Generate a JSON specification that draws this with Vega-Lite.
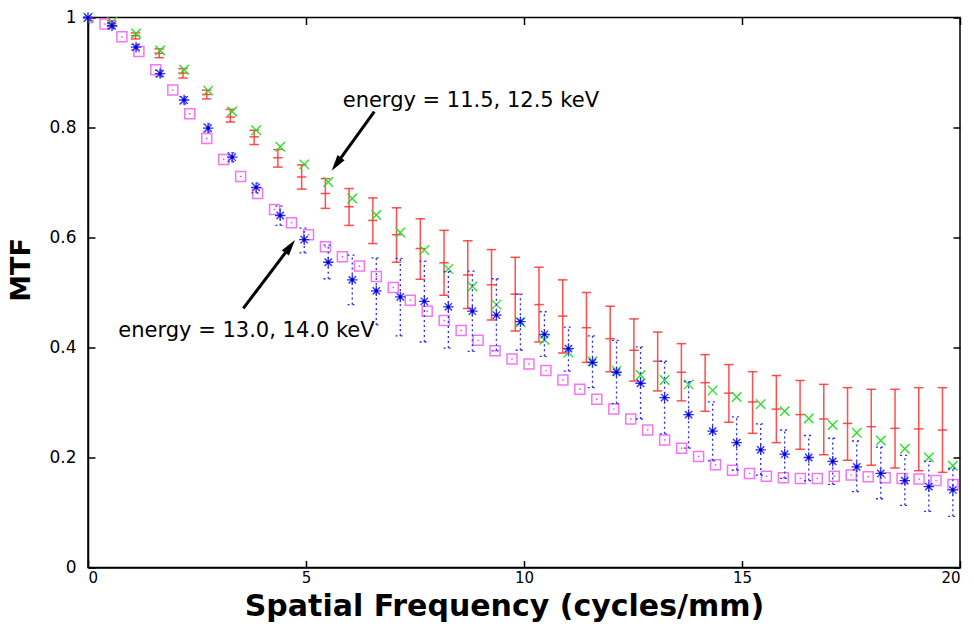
{
  "$schema": "https://vega.github.io/schema/vega-lite/v6.json",
  "width": 872,
  "height": 550,
  "autosize": {"type": "none"},
  "padding": {"left": 88, "top": 17.5, "right": 14, "bottom": 61.5},
  "background": "white",
  "config": {
    "view": {"stroke": "black", "strokeWidth": 1.5},
    "axis": {"grid": false, "domainColor": "black", "domainWidth": 1.5, "tickColor": "black", "tickWidth": 1.5, "labelColor": "black", "labelFont": "DejaVu Sans", "labelFontSize": 17, "titleColor": "black"}
  },
  "datasets": {
    "red": [
      {"f": 0, "m": 1.0, "lo": 1.0, "hi": 1.0},
      {"f": 0.544, "m": 0.989, "lo": 0.984, "hi": 0.994},
      {"f": 1.089, "m": 0.967, "lo": 0.961, "hi": 0.972},
      {"f": 1.633, "m": 0.935, "lo": 0.927, "hi": 0.943},
      {"f": 2.178, "m": 0.899, "lo": 0.890, "hi": 0.907},
      {"f": 2.722, "m": 0.860, "lo": 0.852, "hi": 0.868},
      {"f": 3.266, "m": 0.819, "lo": 0.810, "hi": 0.833},
      {"f": 3.811, "m": 0.783, "lo": 0.769, "hi": 0.795},
      {"f": 4.355, "m": 0.745, "lo": 0.728, "hi": 0.760},
      {"f": 4.900, "m": 0.710, "lo": 0.688, "hi": 0.732},
      {"f": 5.444, "m": 0.680, "lo": 0.653, "hi": 0.707},
      {"f": 5.988, "m": 0.656, "lo": 0.622, "hi": 0.689},
      {"f": 6.533, "m": 0.631, "lo": 0.589, "hi": 0.672},
      {"f": 7.077, "m": 0.605, "lo": 0.555, "hi": 0.654},
      {"f": 7.622, "m": 0.580, "lo": 0.524, "hi": 0.634},
      {"f": 8.166, "m": 0.554, "lo": 0.495, "hi": 0.613},
      {"f": 8.710, "m": 0.532, "lo": 0.471, "hi": 0.594},
      {"f": 9.255, "m": 0.514, "lo": 0.450, "hi": 0.578},
      {"f": 9.799, "m": 0.497, "lo": 0.430, "hi": 0.564},
      {"f": 10.344, "m": 0.478, "lo": 0.410, "hi": 0.546},
      {"f": 10.888, "m": 0.457, "lo": 0.390, "hi": 0.523},
      {"f": 11.432, "m": 0.436, "lo": 0.373, "hi": 0.500},
      {"f": 11.977, "m": 0.416, "lo": 0.356, "hi": 0.475},
      {"f": 12.521, "m": 0.395, "lo": 0.339, "hi": 0.452},
      {"f": 13.066, "m": 0.375, "lo": 0.321, "hi": 0.428},
      {"f": 13.610, "m": 0.355, "lo": 0.303, "hi": 0.407},
      {"f": 14.154, "m": 0.336, "lo": 0.284, "hi": 0.387},
      {"f": 14.699, "m": 0.317, "lo": 0.264, "hi": 0.369},
      {"f": 15.243, "m": 0.301, "lo": 0.244, "hi": 0.356},
      {"f": 15.788, "m": 0.288, "lo": 0.227, "hi": 0.349},
      {"f": 16.332, "m": 0.278, "lo": 0.215, "hi": 0.340},
      {"f": 16.876, "m": 0.270, "lo": 0.205, "hi": 0.333},
      {"f": 17.421, "m": 0.262, "lo": 0.195, "hi": 0.327},
      {"f": 17.965, "m": 0.256, "lo": 0.186, "hi": 0.324},
      {"f": 18.510, "m": 0.253, "lo": 0.181, "hi": 0.324},
      {"f": 19.054, "m": 0.252, "lo": 0.176, "hi": 0.327},
      {"f": 19.598, "m": 0.250, "lo": 0.173, "hi": 0.327}
    ],
    "green": [
      {"f": 0, "m": 1.0}, {"f": 0.551, "m": 0.992}, {"f": 1.102, "m": 0.971}, {"f": 1.653, "m": 0.940},
      {"f": 2.204, "m": 0.905}, {"f": 2.755, "m": 0.867}, {"f": 3.306, "m": 0.829}, {"f": 3.857, "m": 0.795},
      {"f": 4.408, "m": 0.765}, {"f": 4.959, "m": 0.733}, {"f": 5.510, "m": 0.701}, {"f": 6.061, "m": 0.671},
      {"f": 6.612, "m": 0.641}, {"f": 7.163, "m": 0.609}, {"f": 7.714, "m": 0.577}, {"f": 8.265, "m": 0.543},
      {"f": 8.816, "m": 0.511}, {"f": 9.367, "m": 0.478}, {"f": 9.918, "m": 0.446}, {"f": 10.469, "m": 0.414},
      {"f": 11.020, "m": 0.391}, {"f": 11.571, "m": 0.375}, {"f": 12.122, "m": 0.358}, {"f": 12.673, "m": 0.350},
      {"f": 13.224, "m": 0.341}, {"f": 13.775, "m": 0.333}, {"f": 14.326, "m": 0.322}, {"f": 14.877, "m": 0.310},
      {"f": 15.428, "m": 0.297}, {"f": 15.979, "m": 0.284}, {"f": 16.530, "m": 0.271}, {"f": 17.081, "m": 0.259},
      {"f": 17.632, "m": 0.245}, {"f": 18.183, "m": 0.231}, {"f": 18.734, "m": 0.216}, {"f": 19.285, "m": 0.200},
      {"f": 19.836, "m": 0.185}
    ],
    "blue": [
      {"f": 0, "m": 1.0, "lo": 1.0, "hi": 1.0},
      {"f": 0.551, "m": 0.985, "lo": 0.980, "hi": 0.990},
      {"f": 1.102, "m": 0.946, "lo": 0.941, "hi": 0.951},
      {"f": 1.653, "m": 0.898, "lo": 0.892, "hi": 0.904},
      {"f": 2.204, "m": 0.850, "lo": 0.843, "hi": 0.856},
      {"f": 2.755, "m": 0.799, "lo": 0.792, "hi": 0.806},
      {"f": 3.306, "m": 0.746, "lo": 0.738, "hi": 0.754},
      {"f": 3.857, "m": 0.691, "lo": 0.681, "hi": 0.699},
      {"f": 4.408, "m": 0.640, "lo": 0.622, "hi": 0.657},
      {"f": 4.959, "m": 0.596, "lo": 0.572, "hi": 0.617},
      {"f": 5.510, "m": 0.555, "lo": 0.525, "hi": 0.586},
      {"f": 6.061, "m": 0.523, "lo": 0.478, "hi": 0.568},
      {"f": 6.612, "m": 0.503, "lo": 0.441, "hi": 0.563},
      {"f": 7.163, "m": 0.492, "lo": 0.421, "hi": 0.562},
      {"f": 7.714, "m": 0.484, "lo": 0.410, "hi": 0.557},
      {"f": 8.265, "m": 0.474, "lo": 0.399, "hi": 0.538},
      {"f": 8.816, "m": 0.466, "lo": 0.393, "hi": 0.539},
      {"f": 9.367, "m": 0.459, "lo": 0.394, "hi": 0.525},
      {"f": 9.918, "m": 0.447, "lo": 0.395, "hi": 0.497},
      {"f": 10.469, "m": 0.424, "lo": 0.384, "hi": 0.465},
      {"f": 11.020, "m": 0.398, "lo": 0.357, "hi": 0.437},
      {"f": 11.571, "m": 0.373, "lo": 0.327, "hi": 0.421},
      {"f": 12.122, "m": 0.355, "lo": 0.298, "hi": 0.413},
      {"f": 12.673, "m": 0.335, "lo": 0.270, "hi": 0.401},
      {"f": 13.224, "m": 0.309, "lo": 0.243, "hi": 0.375},
      {"f": 13.775, "m": 0.278, "lo": 0.217, "hi": 0.338},
      {"f": 14.326, "m": 0.248, "lo": 0.194, "hi": 0.301},
      {"f": 14.877, "m": 0.227, "lo": 0.177, "hi": 0.274},
      {"f": 15.428, "m": 0.214, "lo": 0.168, "hi": 0.261},
      {"f": 15.979, "m": 0.206, "lo": 0.162, "hi": 0.250},
      {"f": 16.530, "m": 0.200, "lo": 0.158, "hi": 0.240},
      {"f": 17.081, "m": 0.193, "lo": 0.151, "hi": 0.235},
      {"f": 17.632, "m": 0.183, "lo": 0.138, "hi": 0.230},
      {"f": 18.183, "m": 0.171, "lo": 0.125, "hi": 0.219},
      {"f": 18.734, "m": 0.158, "lo": 0.113, "hi": 0.204},
      {"f": 19.285, "m": 0.147, "lo": 0.102, "hi": 0.193},
      {"f": 19.836, "m": 0.141, "lo": 0.093, "hi": 0.180}
    ],
    "magenta": [
      {"f": 0, "m": 1.0}, {"f": 0.389, "m": 0.988}, {"f": 0.778, "m": 0.965}, {"f": 1.167, "m": 0.938},
      {"f": 1.556, "m": 0.905}, {"f": 1.945, "m": 0.868}, {"f": 2.334, "m": 0.825}, {"f": 2.723, "m": 0.780},
      {"f": 3.112, "m": 0.742}, {"f": 3.501, "m": 0.711}, {"f": 3.890, "m": 0.680}, {"f": 4.279, "m": 0.651},
      {"f": 4.668, "m": 0.627}, {"f": 5.057, "m": 0.605}, {"f": 5.446, "m": 0.583}, {"f": 5.835, "m": 0.565},
      {"f": 6.224, "m": 0.548}, {"f": 6.613, "m": 0.529}, {"f": 7.002, "m": 0.509}, {"f": 7.391, "m": 0.486},
      {"f": 7.780, "m": 0.466}, {"f": 8.169, "m": 0.449}, {"f": 8.558, "m": 0.431}, {"f": 8.947, "m": 0.413},
      {"f": 9.336, "m": 0.394}, {"f": 9.725, "m": 0.379}, {"f": 10.114, "m": 0.370}, {"f": 10.503, "m": 0.358},
      {"f": 10.892, "m": 0.341}, {"f": 11.281, "m": 0.324}, {"f": 11.670, "m": 0.306}, {"f": 12.059, "m": 0.288},
      {"f": 12.448, "m": 0.270}, {"f": 12.837, "m": 0.250}, {"f": 13.226, "m": 0.232}, {"f": 13.615, "m": 0.217},
      {"f": 14.004, "m": 0.202}, {"f": 14.393, "m": 0.187}, {"f": 14.782, "m": 0.177}, {"f": 15.171, "m": 0.171},
      {"f": 15.560, "m": 0.166}, {"f": 15.949, "m": 0.163}, {"f": 16.338, "m": 0.162}, {"f": 16.727, "m": 0.162},
      {"f": 17.116, "m": 0.166}, {"f": 17.505, "m": 0.168}, {"f": 17.894, "m": 0.165}, {"f": 18.283, "m": 0.163},
      {"f": 18.672, "m": 0.162}, {"f": 19.061, "m": 0.161}, {"f": 19.450, "m": 0.158}, {"f": 19.839, "m": 0.151}
    ],
    "labels": [
      {"f": 5.842, "m": 0.8378, "t": "energy = 11.5, 12.5 keV"},
      {"f": 0.695, "m": 0.4196, "t": "energy = 13.0, 14.0 keV"}
    ],
    "arrows": [
      {"f": 6.567, "m": 0.8287, "f2": 5.697, "m2": 0.7333},
      {"f": 3.562, "m": 0.4713, "f2": 4.638, "m2": 0.5838}
    ],
    "head1": [{"f": 5.697, "m": 0.7333}],
    "head2": [{"f": 4.638, "m": 0.5838}]
  },
  "resolve": {"axis": {"x": "independent", "y": "independent"}},
  "layer": [
    {
      "data": {"name": "magenta"},
      "mark": {"type": "point", "shape": "square", "filled": false, "stroke": "#f03cf0", "strokeWidth": 1.5, "size": 100, "clip": true},
      "encoding": {
        "x": {"field": "f", "type": "quantitative", "scale": {"domain": [0, 20], "nice": false, "zero": false},
              "axis": {"orient": "bottom", "values": [0, 5, 10, 15, 20], "format": "~g", "tickSize": -7, "labelPadding": 10, "labelFontSize": 15,
                       "title": "Spatial Frequency (cycles/mm)", "titleFont": "DejaVu Sans", "titleFontWeight": "bold", "titleFontSize": 30,
                       "titleX": 416, "titleY": 48, "titleAnchor": "middle", "titleAlign": "center", "titleBaseline": "alphabetic"}},
        "y": {"field": "m", "type": "quantitative", "scale": {"domain": [0, 1], "nice": false, "zero": false},
              "axis": {"orient": "left", "values": [0, 0.2, 0.4, 0.6, 0.8, 1], "format": "~g", "tickSize": -7, "labelPadding": 19,
                       "title": "MTF", "titleFont": "DejaVu Sans", "titleFontWeight": "bold", "titleFontSize": 27,
                       "titleX": -59, "titleY": 252, "titleAngle": -90, "titleAlign": "center", "titleBaseline": "alphabetic"}}
      }
    },
    {
      "data": {"name": "magenta"},
      "mark": {"type": "point", "filled": true, "shape": "square", "size": 2, "color": "#f03cf0", "opacity": 1},
      "encoding": {
        "x": {"field": "f", "type": "quantitative", "axis": {"orient": "top", "values": [0, 5, 10, 15, 20], "tickSize": -7, "labels": false, "domain": false, "title": null}},
        "y": {"field": "m", "type": "quantitative", "axis": {"orient": "right", "values": [0, 0.2, 0.4, 0.6, 0.8, 1], "tickSize": -7, "labels": false, "domain": false, "title": null}}
      }
    },
    {
      "data": {"name": "red"},
      "mark": {"type": "rule", "color": "#ff3030", "strokeWidth": 1.5, "opacity": 0.85},
      "encoding": {
        "x": {"field": "f", "type": "quantitative", "axis": null},
        "y": {"field": "lo", "type": "quantitative", "axis": null},
        "y2": {"field": "hi"}
      }
    },
    {
      "data": {"name": "red"},
      "mark": {"type": "point", "shape": "M-1,0L1,0", "stroke": "#ff3030", "strokeWidth": 1.5, "size": 90, "opacity": 0.85},
      "encoding": {
        "x": {"field": "f", "type": "quantitative", "axis": null},
        "y": {"field": "lo", "type": "quantitative", "axis": null}
      }
    },
    {
      "data": {"name": "red"},
      "mark": {"type": "point", "shape": "M-1,0L1,0", "stroke": "#ff3030", "strokeWidth": 1.5, "size": 90, "opacity": 0.85},
      "encoding": {
        "x": {"field": "f", "type": "quantitative", "axis": null},
        "y": {"field": "hi", "type": "quantitative", "axis": null}
      }
    },
    {
      "data": {"name": "red"},
      "mark": {"type": "point", "shape": "M-1,0L1,0", "stroke": "#ff3030", "strokeWidth": 1.5, "size": 90, "opacity": 0.85},
      "encoding": {
        "x": {"field": "f", "type": "quantitative", "axis": null},
        "y": {"field": "m", "type": "quantitative", "axis": null}
      }
    },
    {
      "data": {"name": "green"},
      "mark": {"type": "point", "shape": "M-1,-1L1,1M-1,1L1,-1", "stroke": "#22e022", "strokeWidth": 1.3, "size": 90, "opacity": 1},
      "encoding": {
        "x": {"field": "f", "type": "quantitative", "axis": null},
        "y": {"field": "m", "type": "quantitative", "axis": null}
      }
    },
    {
      "data": {"name": "blue"},
      "mark": {"type": "rule", "color": "#2a2aff", "strokeWidth": 1.3, "strokeDash": [2, 3]},
      "encoding": {
        "x": {"field": "f", "type": "quantitative", "axis": null},
        "y": {"field": "lo", "type": "quantitative", "axis": null},
        "y2": {"field": "hi"}
      }
    },
    {
      "data": {"name": "blue"},
      "mark": {"type": "point", "shape": "M-1,0L1,0", "stroke": "#2a2aff", "strokeWidth": 1.3, "strokeDash": [2, 3], "size": 90, "opacity": 1},
      "encoding": {
        "x": {"field": "f", "type": "quantitative", "axis": null},
        "y": {"field": "lo", "type": "quantitative", "axis": null}
      }
    },
    {
      "data": {"name": "blue"},
      "mark": {"type": "point", "shape": "M-1,0L1,0", "stroke": "#2a2aff", "strokeWidth": 1.3, "strokeDash": [2, 3], "size": 90, "opacity": 1},
      "encoding": {
        "x": {"field": "f", "type": "quantitative", "axis": null},
        "y": {"field": "hi", "type": "quantitative", "axis": null}
      }
    },
    {
      "data": {"name": "blue"},
      "mark": {"type": "point", "shape": "M-1,0L1,0M0,-1L0,1M-0.7,-0.7L0.7,0.7M-0.7,0.7L0.7,-0.7", "stroke": "#2a2aff", "strokeWidth": 1.3, "size": 110, "opacity": 1},
      "encoding": {
        "x": {"field": "f", "type": "quantitative", "axis": null},
        "y": {"field": "m", "type": "quantitative", "axis": null}
      }
    },
    {
      "data": {"name": "blue"},
      "mark": {"type": "point", "shape": "circle", "filled": true, "color": "#0000b0", "size": 10, "opacity": 1},
      "encoding": {
        "x": {"field": "f", "type": "quantitative", "axis": null},
        "y": {"field": "m", "type": "quantitative", "axis": null}
      }
    },
    {
      "data": {"name": "arrows"},
      "mark": {"type": "rule", "color": "black", "strokeWidth": 3},
      "encoding": {
        "x": {"field": "f", "type": "quantitative", "axis": null},
        "y": {"field": "m", "type": "quantitative", "axis": null},
        "x2": {"field": "f2"},
        "y2": {"field": "m2"}
      }
    },
    {
      "data": {"name": "head1"},
      "mark": {"type": "point", "shape": "M0,-1L0.55,1L-0.55,1Z", "filled": true, "color": "black", "size": 256, "opacity": 1, "angle": 215.8},
      "encoding": {
        "x": {"field": "f", "type": "quantitative", "axis": null},
        "y": {"field": "m", "type": "quantitative", "axis": null}
      }
    },
    {
      "data": {"name": "head2"},
      "mark": {"type": "point", "shape": "M0,-1L0.55,1L-0.55,1Z", "filled": true, "color": "black", "size": 256, "opacity": 1, "angle": 37.1},
      "encoding": {
        "x": {"field": "f", "type": "quantitative", "axis": null},
        "y": {"field": "m", "type": "quantitative", "axis": null}
      }
    },
    {
      "data": {"name": "labels"},
      "mark": {"type": "text", "align": "left", "baseline": "alphabetic", "font": "DejaVu Sans", "fontSize": 21, "color": "black"},
      "encoding": {
        "x": {"field": "f", "type": "quantitative", "axis": null},
        "y": {"field": "m", "type": "quantitative", "axis": null},
        "text": {"field": "t"}
      }
    }
  ]
}
